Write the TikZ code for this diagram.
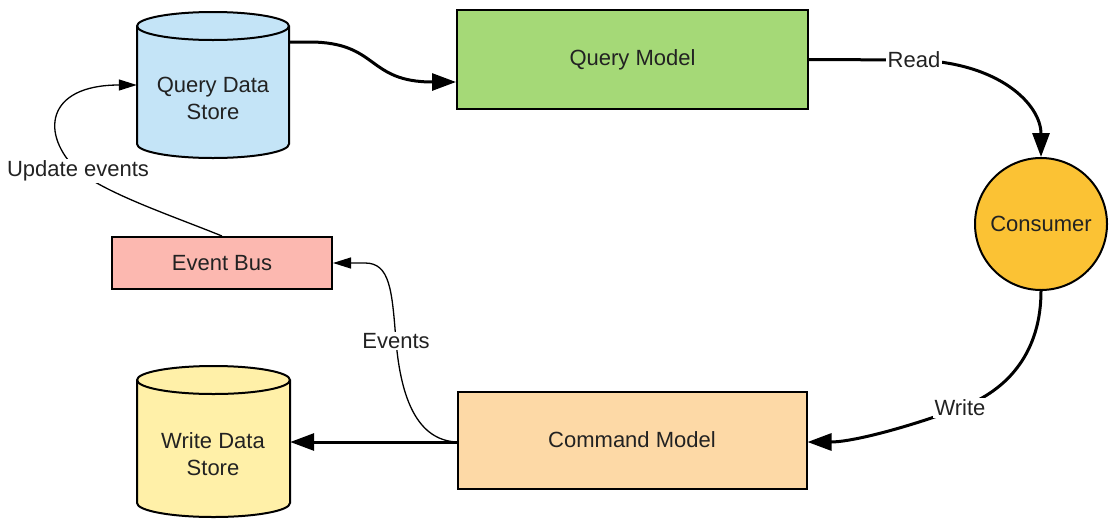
\documentclass[tikz,border=0pt]{standalone}
\usepackage{fontspec}
\setmainfont{Liberation Sans}
\usetikzlibrary{arrows.meta}
\definecolor{qblue}{HTML}{C4E4F7}
\definecolor{qgreen}{HTML}{A5D977}
\definecolor{cyellow}{HTML}{FBC234}
\definecolor{corange}{HTML}{FDD9A6}
\definecolor{wyellow}{HTML}{FFF0A8}
\definecolor{ebred}{HTML}{FCB8B0}
\definecolor{txt}{HTML}{222222}
\tikzset{
  box/.style={draw=black, line width=2pt, inner sep=0pt, text=txt},
  cylout/.style={draw=black, line width=2pt},
  hold/.style={inner sep=0pt, draw=none},
  lbl/.style={text=txt, align=center},
  elabel/.style={fill=white, text=txt, inner sep=1.5pt},
  thickarrow/.style={line width=3pt, -{Triangle[length=24pt,width=17pt]}},
  thinarrow/.style={line width=1.3pt, -{Triangle[length=18pt,width=11pt]}},
}
\begin{document}
\begin{tikzpicture}[x=1pt,y=-1pt, font=\fontsize{22}{27}\selectfont]
\useasboundingbox (0,0) rectangle (1111,520);

% Query Data Store cylinder
\filldraw[cylout, fill=qblue] (137,26) -- (137,144) arc[start angle=180,end angle=360,x radius=76pt,y radius=14pt]
  -- (289,26) arc[start angle=0,end angle=180,x radius=76pt,y radius=14pt] -- cycle;
\draw[cylout] (137,26) arc[start angle=180,end angle=360,x radius=76pt,y radius=14pt];
\node[hold, minimum width=152pt, minimum height=146pt] (qds) at (213,85) {};
\node[lbl] (qdst) at (213,98) {Query Data\\Store};

% Write Data Store cylinder
\filldraw[cylout, fill=wyellow] (137,380) -- (137,503) arc[start angle=180,end angle=360,x radius=76.5pt,y radius=14pt]
  -- (290,380) arc[start angle=0,end angle=180,x radius=76.5pt,y radius=14pt] -- cycle;
\draw[cylout] (137,380) arc[start angle=180,end angle=360,x radius=76.5pt,y radius=14pt];
\node[hold, minimum width=153pt, minimum height=152pt] (wds) at (213.5,442) {};
\node[lbl] (wdst) at (213,454) {Write Data\\Store};

% Boxes
\node[box, fill=qgreen, minimum width=351pt, minimum height=99pt] (qm) at (632.5,59.5) {Query Model};
\node[box, fill=corange, minimum width=349pt, minimum height=97pt] (cm) at (632,440) {Command Model};
\node[box, fill=ebred, minimum width=220pt, minimum height=52pt] (eb) at (222,263) {Event Bus};
\node[draw=black, line width=2pt, circle, fill=cyellow, minimum size=132pt, inner sep=0pt, text=txt] (cons) at (1041,224) {Consumer};

% Thick connectors
\draw[thickarrow] ([yshift=43pt]qds.east) -- ++(20pt,0)
  .. controls +(70pt,0) and +(-90pt,0) .. ([yshift=-22.5pt]qm.west);
\draw[thickarrow] (qm.east) -- (914,60) node[elabel] (readl) {Read}
  .. controls (1000,62) and (1041,105) .. (cons.north);
\draw[thickarrow] (cons.south) .. controls (1041,350) and (1010,390) .. (960,408) node[elabel] (writel) {Write}
  .. controls (900,430) and (850,442) .. ([yshift=-2pt]cm.east);
\draw[thickarrow] ([yshift=-2pt]cm.west) -- (wds.east);

% Thin connectors
\draw[thinarrow] ([yshift=-2pt]cm.west) .. controls (418,440) and (401,400) .. (396,341) node[elabel] (evl) {Events}
  .. controls (392,290) and (390,263) .. (365,263) -- (eb.east);
\draw[thinarrow] (eb.north) .. controls (170,215) and (110,195) .. (78,171) node[elabel] (upl) {Update events}
  .. controls (40,135) and (45,85) .. (qds.west);
\end{tikzpicture}
\end{document}
